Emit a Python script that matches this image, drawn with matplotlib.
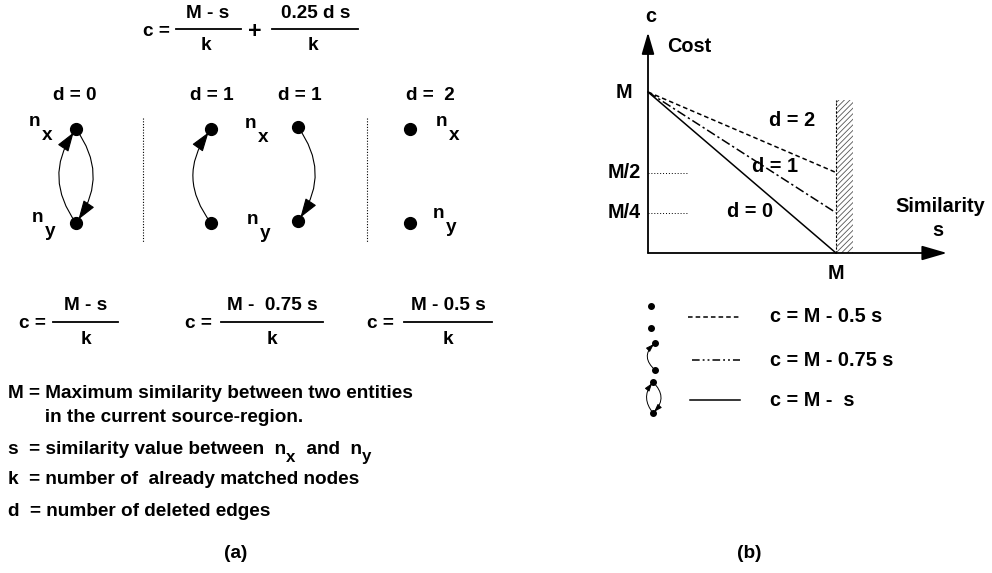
import matplotlib
matplotlib.use("Agg")
import numpy as np
import matplotlib.pyplot as plt
from matplotlib.patches import FancyArrowPatch, Rectangle

plt.rcParams["font.family"] = ["Liberation Sans", "DejaVu Sans"]
plt.rcParams["font.weight"] = "bold"
plt.rcParams["hatch.linewidth"] = 0.6

W, H = 992, 573

# --- panel (b): c = M - slope * s, drawn with M = 1 ---
M = 1.0
d_values = [0, 1, 2]
slopes = [1.0, 0.75, 0.5]
styles = ["-", (0, (6, 2, 1.5, 2)), (0, (3, 2))]
legend_styles = ["-", (0, (5, 2, 1.2, 2, 1.2, 2)), (0, (3, 2))]
level_values = [0.5, 0.25]
level_labels = ["M/2", "M/4"]
legend_labels = ["c = M -  s", "c = M - 0.75 s", "c = M - 0.5 s"]

# --- panel (a) text ---
case_labels = ["d = 0", "d = 1", "d = 1", "d =  2"]
numerators = ["M - s", "M -  0.75 s", "M - 0.5 s"]
definitions = [
    "M = Maximum similarity between two entities",
    "       in the current source-region.",
    None,  # the line with subscripts, drawn in pieces
    "k  = number of  already matched nodes",
    "d  = number of deleted edges",
]
sub_line = ["s  = similarity value between  n", "x", "  and  n", "y"]

FS = 13.7
FSB = 14.3

fig = plt.figure(figsize=(W / 100, H / 100), dpi=100)
ax = fig.add_axes([0, 0, 1, 1])
ax.set_xlim(0, W)
ax.set_ylim(H, 0)
ax.axis("off")
renderer = fig.canvas.get_renderer()


def frac(x_eq, x0, x1, y, num, fs=FS):
    ax.text(x_eq, y + 1, "c =", ha="left", va="center", fontsize=fs)
    ax.plot([x0, x1], [y, y], color="black", lw=1.3)
    ax.text((x0 + x1) / 2, y - 16, num, ha="center", va="center", fontsize=fs)
    ax.text((x0 + x1) / 2, y + 17, "k", ha="center", va="center", fontsize=fs)


def arc(a, p, q, rad, arrow=True, ms=20, lw=0.8, shrink=3):
    style = "-|>,head_length=0.6,head_width=0.2" if arrow else "-"
    a.add_patch(FancyArrowPatch(p, q, connectionstyle=f"arc3,rad={rad}",
                                arrowstyle=style, mutation_scale=ms, lw=lw,
                                color="black", shrinkA=0, shrinkB=shrink))


def node_label(x, y, sub, dy=14):
    ax.text(x, y, "n", ha="left", va="center", fontsize=FS)
    ax.text(x + 13, y + dy, sub, ha="left", va="center", fontsize=FS)


# top formula
ax.text(143, 31, "c =", ha="left", va="center", fontsize=FS)
ax.plot([176, 241], [29, 29], color="black", lw=1.3)
ax.text(208, 14, "M - s", ha="center", va="center", fontsize=FS)
ax.text(206, 46, "k", ha="center", va="center", fontsize=FS)
ax.text(255, 32, "+", ha="center", va="center", fontsize=FS + 3)
ax.plot([272, 358], [29, 29], color="black", lw=1.3)
ax.text(316, 14, "0.25 d s", ha="center", va="center", fontsize=FS)
ax.text(313, 46, "k", ha="center", va="center", fontsize=FS)

# case headers
for x, lab in zip([75, 212, 300, 430], case_labels):
    ax.text(x, 95, lab, ha="center", va="center", fontsize=FS)

# nodes
node_x = [76, 211, 298, 410]
top_y = [129, 129, 127, 129]
bot_y = [223, 223, 221, 223]
ax.plot(node_x, top_y, "o", color="black", ms=8.5)
ax.plot(node_x, bot_y, "o", color="black", ms=8.5)

# edges
arc(ax, (76, 223), (76, 129), -0.36)
arc(ax, (76, 129), (76, 223), -0.36)
arc(ax, (211, 223), (211, 129), -0.38)
arc(ax, (298, 127), (298, 221), -0.36)

# separators
for x in [143, 367]:
    ax.plot([x, x], [118, 243], color="black", lw=0.8, ls=(0, (1, 1.5)))

node_label(29, 121, "x")
node_label(32, 217, "y")
node_label(245, 123, "x")
node_label(247, 219, "y")
node_label(436, 121, "x")
node_label(433, 214, "y")

# bottom formulas
frac(19, 53, 118, 322, numerators[0])
frac(185, 221, 323, 322, numerators[1])
frac(367, 404, 492, 322, numerators[2])

# definitions
def_y = [393, 417, 449, 480, 511]
for y, line in zip(def_y, definitions):
    if line is not None:
        ax.text(8, y, line, ha="left", va="center", fontsize=FS)

# line with subscripts: place each piece after the previous one
x = 8.0
for i, piece in enumerate(sub_line):
    is_sub = i % 2 == 1
    t = ax.text(x, def_y[2] + (8 if is_sub else 0), piece, ha="left", va="center",
                fontsize=FS - 1.5 if is_sub else FS)
    bb = t.get_window_extent(renderer)
    x += bb.width

ax.text(236, 553, "(a)", ha="center", va="center", fontsize=FS)
ax.text(749, 553, "(b)", ha="center", va="center", fontsize=FS)

# --- panel (b) axes ---
axb = fig.add_axes([648 / W, 1 - 253 / H, 188 / W, 161 / H])
axb.set_xlim(0, M)
axb.set_ylim(0, M)
axb.axis("off")

s = np.array([0.0, M])
for d, k, ls in zip(d_values, slopes, styles):
    axb.plot(s, M - k * s, color="black", lw=1.1, ls=ls, clip_on=False)

head = "-|>,head_length=0.55,head_width=0.16"
axb.annotate("", xy=(1.59, 0), xytext=(0, 0), annotation_clip=False,
             arrowprops=dict(arrowstyle=head, mutation_scale=28, lw=1.3,
                             color="black", shrinkA=0, shrinkB=0))
axb.annotate("", xy=(0, 1.37), xytext=(0, 0), annotation_clip=False,
             arrowprops=dict(arrowstyle=head, mutation_scale=24, lw=1.3,
                             color="black", shrinkA=0, shrinkB=0))

# hatched region beyond s = M
axb.add_patch(Rectangle((M, 0), 0.09, 0.95, facecolor="none", edgecolor="#555555",
                        lw=0, hatch="//////", clip_on=False))
axb.plot([M, M], [0, 0.95], color="black", lw=0.8, ls=(0, (2, 1.5)), clip_on=False)

for v, lab in zip(level_values, level_labels):
    axb.plot([0, 0.21], [v, v], color="black", lw=0.7, ls=(0, (1, 2)), clip_on=False)
    axb.text(-0.04, v, lab, ha="right", va="center", fontsize=FSB)

axb.text(-0.13, M, "M", ha="center", va="center", fontsize=FSB)
axb.text(M, -0.125, "M", ha="center", va="center", fontsize=FSB)
axb.text(0.012, 1.47, "c", ha="center", va="center", fontsize=FSB)
axb.text(0.10, 1.28, "Cost", ha="left", va="center", fontsize=FSB)
axb.text(1.553, 0.29, "Similarity", ha="center", va="center", fontsize=FSB)
axb.text(1.543, 0.14, "s", ha="center", va="center", fontsize=FSB)

label_pos = {0: (0.543, 0.255), 1: (0.676, 0.54), 2: (0.766, 0.82)}
for d in d_values:
    axb.text(*label_pos[d], f"d = {d}", ha="center", va="center", fontsize=FSB)

# --- legend under panel (b) ---
leg_y = [400, 360, 317]
leg_x0 = [690, 692, 688]
for y, x0, ls, lab in zip(leg_y, leg_x0, legend_styles, legend_labels):
    ax.plot([x0, 740], [y, y], color="black", lw=1.1, ls=ls)
    ax.text(770, y, lab, ha="left", va="center", fontsize=FSB)

# legend glyphs
ax.plot([651, 651], [306, 328], "o", color="black", ms=4)
ax.plot([655, 655], [343, 370], "o", color="black", ms=4)
arc(ax, (655, 370), (655, 343), -0.55, ms=8, lw=0.7, shrink=1)
ax.plot([653, 653], [382, 413], "o", color="black", ms=4)
arc(ax, (653, 413), (653, 382), -0.4, ms=8, lw=0.7, shrink=1)
arc(ax, (653, 382), (653, 413), -0.5, ms=8, lw=0.7, shrink=1)

fig.savefig("out.png", dpi=100, facecolor="white")
plt.close(fig)
